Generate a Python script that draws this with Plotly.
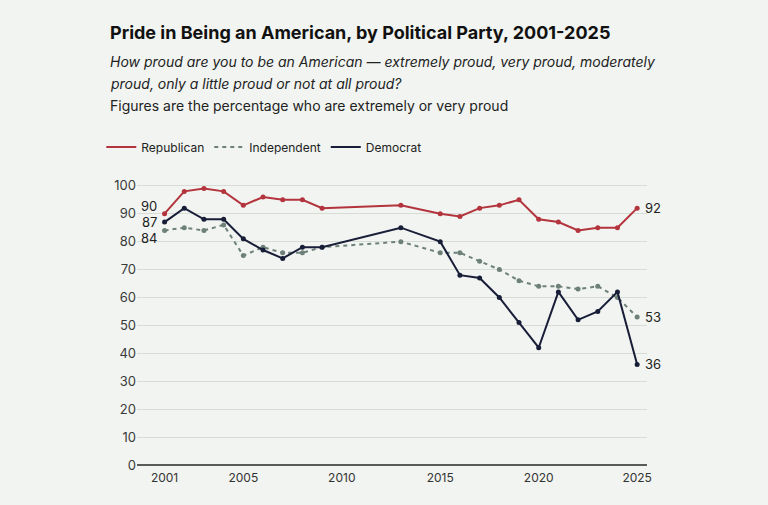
import plotly.graph_objects as go

# --- data ---
years = [2001, 2002, 2003, 2004, 2005, 2006, 2007, 2008, 2009, 2013,
         2015, 2016, 2017, 2018, 2019, 2020, 2021, 2022, 2023, 2024, 2025]
republican = [90, 98, 99, 98, 93, 96, 95, 95, 92, 93,
              90, 89, 92, 93, 95, 88, 87, 84, 85, 85, 92]
independent = [84, 85, 84, 86, 75, 78, 76, 76, 78, 80,
               76, 76, 73, 70, 66, 64, 64, 63, 64, 60, 53]
democrat = [87, 92, 88, 88, 81, 77, 74, 78, 78, 85,
            80, 68, 67, 60, 51, 42, 62, 52, 55, 62, 36]

x_ticks = [2001, 2005, 2010, 2015, 2020, 2025]
y_ticks = [0, 10, 20, 30, 40, 50, 60, 70, 80, 90, 100]

RED = "#b3343d"
GREY = "#6d807a"
NAVY = "#181d38"
BG = "#f1f4f0"
FONT = "Inter"

fig = go.Figure()

series = [
    ("Republican", republican, RED, "solid"),
    ("Independent", independent, GREY, "4px,4px"),
    ("Democrat", democrat, NAVY, "solid"),
]
for name, vals, color, dash in series:
    fig.add_trace(go.Scatter(
        x=years, y=vals, name=name, mode="lines+markers", showlegend=False,
        line=dict(color=color, width=2, dash=dash),
        marker=dict(size=5, color=color),
    ))
# legend entries show just the line, no dot
for name, vals, color, dash in series:
    fig.add_trace(go.Scatter(
        x=[None], y=[None], name=name, mode="lines",
        line=dict(color=color, width=2, dash=dash),
    ))

# start/end value labels (start ones nudged apart so they don't collide)
start_labels = [(republican[0], 8), (democrat[0], 0), (independent[0], -8)]
for val, shift in start_labels:
    fig.add_annotation(x=years[0], y=val, text=str(val), showarrow=False,
                       xanchor="right", xshift=-6, yshift=shift,
                       font=dict(size=13, color="#222"))
for vals in (republican, independent, democrat):
    fig.add_annotation(x=years[-1], y=vals[-1], text=str(vals[-1]), showarrow=False,
                       xanchor="left", xshift=6,
                       font=dict(size=13, color="#222"))

# header text
header = [
    (1.535, "<b>Pride in Being an American, by Political Party, 2001-2025</b>", 18, "#111"),
    (1.43, "<i>How proud are you to be an American — extremely proud, very proud, moderately</i>", 14, "#222"),
    (1.352, "<i>proud, only a little proud or not at all proud?</i>", 14, "#222"),
    (1.274, "Figures are the percentage who are extremely or very proud", 14, "#222"),
]
for y, text, size, color in header:
    fig.add_annotation(xref="paper", yref="paper", x=-0.057, y=y, text=text,
                       showarrow=False, xanchor="left", yanchor="middle",
                       font=dict(size=size, color=color))

fig.update_layout(
    width=768, height=505,
    margin=dict(l=137, r=121, t=183, b=40),
    paper_bgcolor=BG, plot_bgcolor=BG,
    font=dict(family=FONT, color="#333"),
    showlegend=True,
    legend=dict(orientation="h", x=-0.07, y=1.128, xanchor="left", yanchor="middle",
                font=dict(size=12, color="#222"), bgcolor="rgba(0,0,0,0)"),
)
fig.update_xaxes(range=[1999.6, 2025.5], tickvals=x_ticks, showgrid=False,
                 zeroline=False, showline=False, ticks="", ticklabelstandoff=4,
                 tickfont=dict(size=12, color="#333"))
fig.update_yaxes(range=[0, 101], tickvals=y_ticks, showgrid=True, gridcolor="#d8dcd7",
                 gridwidth=1, zeroline=True, zerolinecolor="#5a5a5a", zerolinewidth=2,
                 ticks="", tickfont=dict(size=13, color="#3a3a3a"))

# drop the default page margin so the 768x505 figure fills the window
fig.write_html("out.html", config={"displayModeBar": False},
               post_script="document.body.style.margin='0';")
